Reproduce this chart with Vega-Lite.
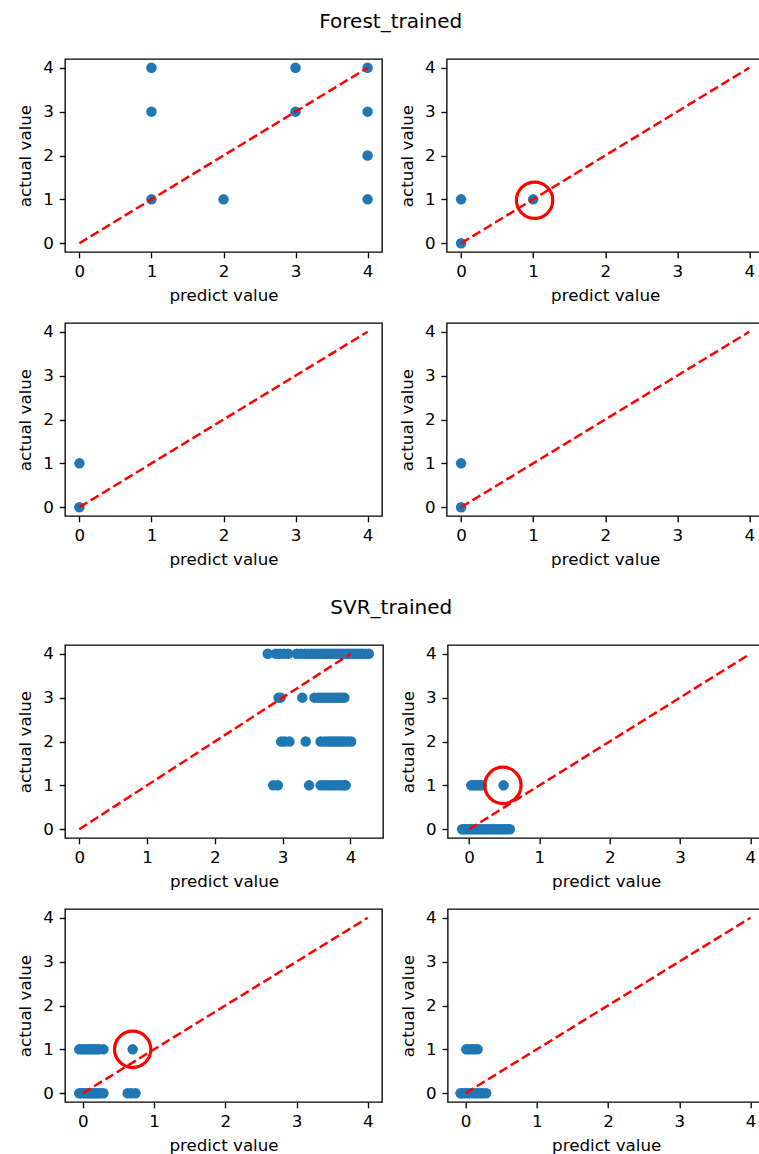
{
  "$schema": "https://vega.github.io/schema/vega-lite/v6.json",
  "background": "white",
  "padding": {"left": 17, "top": 12, "right": 0, "bottom": 0},
  "spacing": 29,
  "datasets": {
    "pts": [
      {"panel": "F1", "x": 1, "y": 4}, {"panel": "F1", "x": 1, "y": 3}, {"panel": "F1", "x": 1, "y": 1}, {"panel": "F1", "x": 2, "y": 1},
      {"panel": "F1", "x": 3, "y": 4}, {"panel": "F1", "x": 3, "y": 3}, {"panel": "F1", "x": 4, "y": 4}, {"panel": "F1", "x": 4, "y": 3},
      {"panel": "F1", "x": 4, "y": 2}, {"panel": "F1", "x": 4, "y": 1},
      {"panel": "F2", "x": 0, "y": 1}, {"panel": "F2", "x": 0, "y": 0}, {"panel": "F2", "x": 1, "y": 1},
      {"panel": "F3", "x": 0, "y": 1}, {"panel": "F3", "x": 0, "y": 0},
      {"panel": "F4", "x": 0, "y": 1}, {"panel": "F4", "x": 0, "y": 0},
      {"panel": "S1", "x": 2.78, "y": 4}, {"panel": "S1", "x": 2.9, "y": 4}, {"panel": "S1", "x": 2.96, "y": 4}, {"panel": "S1", "x": 3.02, "y": 4},
      {"panel": "S1", "x": 3.08, "y": 4}, {"panel": "S1", "x": 3.21, "y": 4}, {"panel": "S1", "x": 3.27, "y": 4}, {"panel": "S1", "x": 3.33, "y": 4},
      {"panel": "S1", "x": 3.38, "y": 4}, {"panel": "S1", "x": 3.43, "y": 4}, {"panel": "S1", "x": 3.48, "y": 4}, {"panel": "S1", "x": 3.53, "y": 4},
      {"panel": "S1", "x": 3.57, "y": 4}, {"panel": "S1", "x": 3.61, "y": 4}, {"panel": "S1", "x": 3.65, "y": 4}, {"panel": "S1", "x": 3.69, "y": 4},
      {"panel": "S1", "x": 3.73, "y": 4}, {"panel": "S1", "x": 3.77, "y": 4}, {"panel": "S1", "x": 3.81, "y": 4}, {"panel": "S1", "x": 3.85, "y": 4},
      {"panel": "S1", "x": 3.89, "y": 4}, {"panel": "S1", "x": 3.93, "y": 4}, {"panel": "S1", "x": 3.97, "y": 4}, {"panel": "S1", "x": 4.01, "y": 4},
      {"panel": "S1", "x": 4.05, "y": 4}, {"panel": "S1", "x": 4.09, "y": 4}, {"panel": "S1", "x": 4.13, "y": 4}, {"panel": "S1", "x": 4.17, "y": 4},
      {"panel": "S1", "x": 4.22, "y": 4}, {"panel": "S1", "x": 4.27, "y": 4},
      {"panel": "S1", "x": 2.94, "y": 3}, {"panel": "S1", "x": 2.97, "y": 3}, {"panel": "S1", "x": 3.29, "y": 3}, {"panel": "S1", "x": 3.47, "y": 3},
      {"panel": "S1", "x": 3.52, "y": 3}, {"panel": "S1", "x": 3.56, "y": 3}, {"panel": "S1", "x": 3.6, "y": 3}, {"panel": "S1", "x": 3.64, "y": 3},
      {"panel": "S1", "x": 3.68, "y": 3}, {"panel": "S1", "x": 3.72, "y": 3}, {"panel": "S1", "x": 3.76, "y": 3}, {"panel": "S1", "x": 3.8, "y": 3},
      {"panel": "S1", "x": 3.84, "y": 3}, {"panel": "S1", "x": 3.88, "y": 3}, {"panel": "S1", "x": 3.91, "y": 3},
      {"panel": "S1", "x": 2.98, "y": 2}, {"panel": "S1", "x": 3.03, "y": 2}, {"panel": "S1", "x": 3.1, "y": 2}, {"panel": "S1", "x": 3.34, "y": 2},
      {"panel": "S1", "x": 3.56, "y": 2}, {"panel": "S1", "x": 3.62, "y": 2}, {"panel": "S1", "x": 3.67, "y": 2}, {"panel": "S1", "x": 3.71, "y": 2},
      {"panel": "S1", "x": 3.75, "y": 2}, {"panel": "S1", "x": 3.79, "y": 2}, {"panel": "S1", "x": 3.83, "y": 2}, {"panel": "S1", "x": 3.87, "y": 2},
      {"panel": "S1", "x": 3.91, "y": 2}, {"panel": "S1", "x": 3.96, "y": 2}, {"panel": "S1", "x": 4.01, "y": 2},
      {"panel": "S1", "x": 2.86, "y": 1}, {"panel": "S1", "x": 2.93, "y": 1}, {"panel": "S1", "x": 3.39, "y": 1}, {"panel": "S1", "x": 3.56, "y": 1},
      {"panel": "S1", "x": 3.61, "y": 1}, {"panel": "S1", "x": 3.66, "y": 1}, {"panel": "S1", "x": 3.71, "y": 1}, {"panel": "S1", "x": 3.76, "y": 1},
      {"panel": "S1", "x": 3.81, "y": 1}, {"panel": "S1", "x": 3.86, "y": 1}, {"panel": "S1", "x": 3.9, "y": 1}, {"panel": "S1", "x": 3.93, "y": 1},
      {"panel": "S2", "x": 0.03, "y": 1}, {"panel": "S2", "x": 0.06, "y": 1}, {"panel": "S2", "x": 0.09, "y": 1}, {"panel": "S2", "x": 0.12, "y": 1},
      {"panel": "S2", "x": 0.15, "y": 1}, {"panel": "S2", "x": 0.18, "y": 1}, {"panel": "S2", "x": 0.49, "y": 1},
      {"panel": "S2", "x": -0.1, "y": 0}, {"panel": "S2", "x": -0.07, "y": 0}, {"panel": "S2", "x": -0.04, "y": 0}, {"panel": "S2", "x": 0.0, "y": 0},
      {"panel": "S2", "x": 0.03, "y": 0}, {"panel": "S2", "x": 0.06, "y": 0}, {"panel": "S2", "x": 0.1, "y": 0}, {"panel": "S2", "x": 0.14, "y": 0},
      {"panel": "S2", "x": 0.18, "y": 0}, {"panel": "S2", "x": 0.22, "y": 0}, {"panel": "S2", "x": 0.26, "y": 0}, {"panel": "S2", "x": 0.3, "y": 0},
      {"panel": "S2", "x": 0.34, "y": 0}, {"panel": "S2", "x": 0.38, "y": 0}, {"panel": "S2", "x": 0.42, "y": 0}, {"panel": "S2", "x": 0.46, "y": 0},
      {"panel": "S2", "x": 0.5, "y": 0}, {"panel": "S2", "x": 0.54, "y": 0}, {"panel": "S2", "x": 0.58, "y": 0},
      {"panel": "S3", "x": -0.05, "y": 1}, {"panel": "S3", "x": -0.02, "y": 1}, {"panel": "S3", "x": 0.02, "y": 1}, {"panel": "S3", "x": 0.05, "y": 1},
      {"panel": "S3", "x": 0.08, "y": 1}, {"panel": "S3", "x": 0.11, "y": 1}, {"panel": "S3", "x": 0.14, "y": 1}, {"panel": "S3", "x": 0.17, "y": 1},
      {"panel": "S3", "x": 0.2, "y": 1}, {"panel": "S3", "x": 0.23, "y": 1}, {"panel": "S3", "x": 0.29, "y": 1}, {"panel": "S3", "x": 0.7, "y": 1},
      {"panel": "S3", "x": -0.05, "y": 0}, {"panel": "S3", "x": -0.02, "y": 0}, {"panel": "S3", "x": 0.01, "y": 0}, {"panel": "S3", "x": 0.04, "y": 0},
      {"panel": "S3", "x": 0.07, "y": 0}, {"panel": "S3", "x": 0.1, "y": 0}, {"panel": "S3", "x": 0.13, "y": 0}, {"panel": "S3", "x": 0.16, "y": 0},
      {"panel": "S3", "x": 0.19, "y": 0}, {"panel": "S3", "x": 0.22, "y": 0}, {"panel": "S3", "x": 0.25, "y": 0}, {"panel": "S3", "x": 0.29, "y": 0},
      {"panel": "S3", "x": 0.63, "y": 0}, {"panel": "S3", "x": 0.68, "y": 0}, {"panel": "S3", "x": 0.74, "y": 0},
      {"panel": "S4", "x": 0.01, "y": 1}, {"panel": "S4", "x": 0.05, "y": 1}, {"panel": "S4", "x": 0.09, "y": 1}, {"panel": "S4", "x": 0.13, "y": 1},
      {"panel": "S4", "x": 0.17, "y": 1},
      {"panel": "S4", "x": -0.07, "y": 0}, {"panel": "S4", "x": -0.04, "y": 0}, {"panel": "S4", "x": 0.0, "y": 0}, {"panel": "S4", "x": 0.04, "y": 0},
      {"panel": "S4", "x": 0.08, "y": 0}, {"panel": "S4", "x": 0.12, "y": 0}, {"panel": "S4", "x": 0.16, "y": 0}, {"panel": "S4", "x": 0.2, "y": 0},
      {"panel": "S4", "x": 0.24, "y": 0}, {"panel": "S4", "x": 0.29, "y": 0}
    ],
    "diag": [{"x": 0, "y": 0}, {"x": 4, "y": 4}],
    "hl": [
      {"panel": "F2", "x": 1.02, "y": 0.98},
      {"panel": "S2", "x": 0.48, "y": 1.0},
      {"panel": "S3", "x": 0.7, "y": 1.0}
    ]
  },
  "config": {
    "font": "DejaVu Sans",
    "view": {"stroke": "black", "strokeWidth": 1.33},
    "axis": {
      "grid": false, "domain": false,
      "tickColor": "black", "tickSize": 5.8, "tickWidth": 1.33,
      "labelFont": "DejaVu Sans", "labelFontSize": 16.7, "labelColor": "black", "labelPadding": 5.8,
      "labelFlush": false, "labelOverlap": false,
      "titleFont": "DejaVu Sans", "titleFontSize": 16.7, "titleFontWeight": "normal", "titleColor": "black"
    },
    "axisX": {"titlePadding": 7},
    "axisY": {"titlePadding": 8}
  },
  "vconcat": [
    {
      "title": {"text": "Forest_trained", "fontSize": 20, "font": "DejaVu Sans", "fontWeight": "normal", "color": "black", "anchor": "middle", "frame": "bounds", "baseline": "alphabetic", "offset": 10},
      "columns": 2, "bounds": "flush", "spacing": {"row": 71, "column": 64.7},
      "concat": [
        {"width": 317, "height": 193, "layer": [
          {"data": {"name": "pts"}, "transform": [{"filter": "datum.panel === 'F1'"}], "mark": {"type": "point", "shape": "circle", "filled": true, "size": 110, "color": "#1f77b4", "opacity": 1},
           "encoding": {"x": {"field": "x", "type": "quantitative", "scale": {"domain": [-0.2, 4.2], "nice": false, "zero": false}, "axis": {"title": "predict value", "values": [0, 1, 2, 3, 4], "format": "d"}},
                        "y": {"field": "y", "type": "quantitative", "scale": {"domain": [-0.2, 4.2], "nice": false, "zero": false}, "axis": {"title": "actual value", "values": [0, 1, 2, 3, 4], "format": "d"}}}},
          {"data": {"name": "diag"}, "mark": {"type": "line", "color": "red", "strokeWidth": 2.5, "strokeDash": [9.25, 4]},
           "encoding": {"x": {"field": "x", "type": "quantitative"}, "y": {"field": "y", "type": "quantitative"}}}
        ]},
        {"width": 317, "height": 193, "layer": [
          {"data": {"name": "pts"}, "transform": [{"filter": "datum.panel === 'F2'"}], "mark": {"type": "point", "shape": "circle", "filled": true, "size": 110, "color": "#1f77b4", "opacity": 1},
           "encoding": {"x": {"field": "x", "type": "quantitative", "scale": {"domain": [-0.2, 4.2], "nice": false, "zero": false}, "axis": {"title": "predict value", "values": [0, 1, 2, 3, 4], "format": "d"}},
                        "y": {"field": "y", "type": "quantitative", "scale": {"domain": [-0.2, 4.2], "nice": false, "zero": false}, "axis": {"title": "actual value", "values": [0, 1, 2, 3, 4], "format": "d"}}}},
          {"data": {"name": "diag"}, "mark": {"type": "line", "color": "red", "strokeWidth": 2.5, "strokeDash": [9.25, 4]},
           "encoding": {"x": {"field": "x", "type": "quantitative"}, "y": {"field": "y", "type": "quantitative"}}},
          {"data": {"name": "hl"}, "transform": [{"filter": "datum.panel === 'F2'"}], "mark": {"type": "point", "shape": "circle", "filled": false, "size": 1320, "stroke": "red", "strokeWidth": 3.2, "opacity": 1},
           "encoding": {"x": {"field": "x", "type": "quantitative"}, "y": {"field": "y", "type": "quantitative"}}}
        ]},
        {"width": 317, "height": 193, "layer": [
          {"data": {"name": "pts"}, "transform": [{"filter": "datum.panel === 'F3'"}], "mark": {"type": "point", "shape": "circle", "filled": true, "size": 110, "color": "#1f77b4", "opacity": 1},
           "encoding": {"x": {"field": "x", "type": "quantitative", "scale": {"domain": [-0.2, 4.2], "nice": false, "zero": false}, "axis": {"title": "predict value", "values": [0, 1, 2, 3, 4], "format": "d"}},
                        "y": {"field": "y", "type": "quantitative", "scale": {"domain": [-0.2, 4.2], "nice": false, "zero": false}, "axis": {"title": "actual value", "values": [0, 1, 2, 3, 4], "format": "d"}}}},
          {"data": {"name": "diag"}, "mark": {"type": "line", "color": "red", "strokeWidth": 2.5, "strokeDash": [9.25, 4]},
           "encoding": {"x": {"field": "x", "type": "quantitative"}, "y": {"field": "y", "type": "quantitative"}}}
        ]},
        {"width": 317, "height": 193, "layer": [
          {"data": {"name": "pts"}, "transform": [{"filter": "datum.panel === 'F4'"}], "mark": {"type": "point", "shape": "circle", "filled": true, "size": 110, "color": "#1f77b4", "opacity": 1},
           "encoding": {"x": {"field": "x", "type": "quantitative", "scale": {"domain": [-0.2, 4.2], "nice": false, "zero": false}, "axis": {"title": "predict value", "values": [0, 1, 2, 3, 4], "format": "d"}},
                        "y": {"field": "y", "type": "quantitative", "scale": {"domain": [-0.2, 4.2], "nice": false, "zero": false}, "axis": {"title": "actual value", "values": [0, 1, 2, 3, 4], "format": "d"}}}},
          {"data": {"name": "diag"}, "mark": {"type": "line", "color": "red", "strokeWidth": 2.5, "strokeDash": [9.25, 4]},
           "encoding": {"x": {"field": "x", "type": "quantitative"}, "y": {"field": "y", "type": "quantitative"}}}
        ]}
      ]
    },
    {
      "title": {"text": "SVR_trained", "fontSize": 20, "font": "DejaVu Sans", "fontWeight": "normal", "color": "black", "anchor": "middle", "frame": "bounds", "baseline": "alphabetic", "offset": 10},
      "columns": 2, "bounds": "flush", "spacing": {"row": 71, "column": 64.7},
      "concat": [
        {"width": 318, "height": 193, "layer": [
          {"data": {"name": "pts"}, "transform": [{"filter": "datum.panel === 'S1'"}], "mark": {"type": "point", "shape": "circle", "filled": true, "size": 110, "color": "#1f77b4", "opacity": 1},
           "encoding": {"x": {"field": "x", "type": "quantitative", "scale": {"domain": [-0.21, 4.48], "nice": false, "zero": false}, "axis": {"title": "predict value", "values": [0, 1, 2, 3, 4], "format": "d"}},
                        "y": {"field": "y", "type": "quantitative", "scale": {"domain": [-0.2, 4.2], "nice": false, "zero": false}, "axis": {"title": "actual value", "values": [0, 1, 2, 3, 4], "format": "d"}}}},
          {"data": {"name": "diag"}, "mark": {"type": "line", "color": "red", "strokeWidth": 2.5, "strokeDash": [9.25, 4]},
           "encoding": {"x": {"field": "x", "type": "quantitative"}, "y": {"field": "y", "type": "quantitative"}}}
        ]},
        {"width": 317, "height": 193, "layer": [
          {"data": {"name": "pts"}, "transform": [{"filter": "datum.panel === 'S2'"}], "mark": {"type": "point", "shape": "circle", "filled": true, "size": 110, "color": "#1f77b4", "opacity": 1},
           "encoding": {"x": {"field": "x", "type": "quantitative", "scale": {"domain": [-0.305, 4.205], "nice": false, "zero": false}, "axis": {"title": "predict value", "values": [0, 1, 2, 3, 4], "format": "d"}},
                        "y": {"field": "y", "type": "quantitative", "scale": {"domain": [-0.2, 4.2], "nice": false, "zero": false}, "axis": {"title": "actual value", "values": [0, 1, 2, 3, 4], "format": "d"}}}},
          {"data": {"name": "diag"}, "mark": {"type": "line", "color": "red", "strokeWidth": 2.5, "strokeDash": [9.25, 4]},
           "encoding": {"x": {"field": "x", "type": "quantitative"}, "y": {"field": "y", "type": "quantitative"}}},
          {"data": {"name": "hl"}, "transform": [{"filter": "datum.panel === 'S2'"}], "mark": {"type": "point", "shape": "circle", "filled": false, "size": 1320, "stroke": "red", "strokeWidth": 3.2, "opacity": 1},
           "encoding": {"x": {"field": "x", "type": "quantitative"}, "y": {"field": "y", "type": "quantitative"}}}
        ]},
        {"width": 317, "height": 193, "layer": [
          {"data": {"name": "pts"}, "transform": [{"filter": "datum.panel === 'S3'"}], "mark": {"type": "point", "shape": "circle", "filled": true, "size": 110, "color": "#1f77b4", "opacity": 1},
           "encoding": {"x": {"field": "x", "type": "quantitative", "scale": {"domain": [-0.25, 4.2], "nice": false, "zero": false}, "axis": {"title": "predict value", "values": [0, 1, 2, 3, 4], "format": "d"}},
                        "y": {"field": "y", "type": "quantitative", "scale": {"domain": [-0.2, 4.2], "nice": false, "zero": false}, "axis": {"title": "actual value", "values": [0, 1, 2, 3, 4], "format": "d"}}}},
          {"data": {"name": "diag"}, "mark": {"type": "line", "color": "red", "strokeWidth": 2.5, "strokeDash": [9.25, 4]},
           "encoding": {"x": {"field": "x", "type": "quantitative"}, "y": {"field": "y", "type": "quantitative"}}},
          {"data": {"name": "hl"}, "transform": [{"filter": "datum.panel === 'S3'"}], "mark": {"type": "point", "shape": "circle", "filled": false, "size": 1320, "stroke": "red", "strokeWidth": 3.2, "opacity": 1},
           "encoding": {"x": {"field": "x", "type": "quantitative"}, "y": {"field": "y", "type": "quantitative"}}}
        ]},
        {"width": 317, "height": 193, "layer": [
          {"data": {"name": "pts"}, "transform": [{"filter": "datum.panel === 'S4'"}], "mark": {"type": "point", "shape": "circle", "filled": true, "size": 110, "color": "#1f77b4", "opacity": 1},
           "encoding": {"x": {"field": "x", "type": "quantitative", "scale": {"domain": [-0.25, 4.2], "nice": false, "zero": false}, "axis": {"title": "predict value", "values": [0, 1, 2, 3, 4], "format": "d"}},
                        "y": {"field": "y", "type": "quantitative", "scale": {"domain": [-0.2, 4.2], "nice": false, "zero": false}, "axis": {"title": "actual value", "values": [0, 1, 2, 3, 4], "format": "d"}}}},
          {"data": {"name": "diag"}, "mark": {"type": "line", "color": "red", "strokeWidth": 2.5, "strokeDash": [9.25, 4]},
           "encoding": {"x": {"field": "x", "type": "quantitative"}, "y": {"field": "y", "type": "quantitative"}}}
        ]}
      ]
    }
  ]
}
